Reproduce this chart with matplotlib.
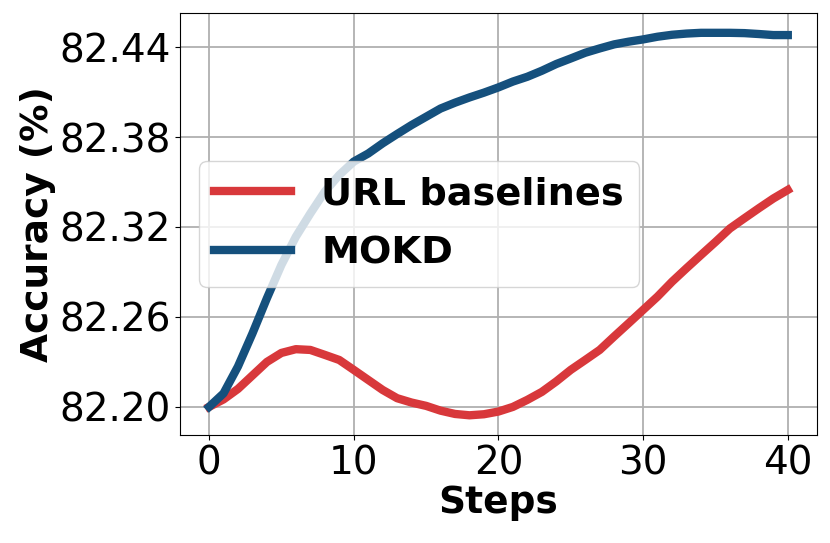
import matplotlib
matplotlib.use("Agg")
import matplotlib.pyplot as plt

# steps 0..40, values
steps = list(range(41))

url_baselines = [82.200, 82.205, 82.212, 82.221, 82.230, 82.236, 82.2385, 82.238, 82.2347, 82.2313,
                 82.2247, 82.218, 82.2113, 82.2058, 82.2029, 82.2007, 82.1975, 82.1953, 82.1944, 82.1951,
                 82.1969, 82.200, 82.2047, 82.210, 82.217, 82.2247, 82.2313, 82.238, 82.247, 82.2558,
                 82.2647, 82.2736, 82.2835, 82.2925, 82.3013, 82.310, 82.319, 82.3258, 82.3325, 82.339,
                 82.3447]

mokd = [82.200, 82.209, 82.227, 82.249, 82.2725, 82.2947, 82.3135, 82.329, 82.3436, 82.3547,
        82.3636, 82.369, 82.3758, 82.382, 82.388, 82.3935, 82.399, 82.4029, 82.4064, 82.4096,
        82.4131, 82.417, 82.4202, 82.4242, 82.4287, 82.4324, 82.4362, 82.4391, 82.4418, 82.4436,
        82.4451, 82.4469, 82.4482, 82.449, 82.4495, 82.4495, 82.4495, 82.4493, 82.4487, 82.448,
        82.448]

yticks = [82.20, 82.26, 82.32, 82.38, 82.44]
xticks = [0, 10, 20, 30, 40]

fig = plt.figure(figsize=(8.3, 5.43), dpi=100)
ax = fig.add_axes([0.217, 0.199, 0.767, 0.777])

ax.plot(steps, url_baselines, color="#d8383b", lw=6, label="URL baselines")
ax.plot(steps, mokd, color="#15507d", lw=6, label="MOKD")

ax.set_xlim(-2, 42)
ax.set_ylim(82.1813, 82.4627)
ax.set_xticks(xticks)
ax.set_yticks(yticks)
ax.set_yticklabels(["{:.2f}".format(v) for v in yticks])
ax.tick_params(labelsize=28)
ax.grid(True, color="#b0b0b0", lw=1.3)
ax.set_axisbelow(True)

ax.set_xlabel("Steps", fontsize=27, fontweight="bold", labelpad=2)
ax.set_ylabel("Accuracy (%)", fontsize=27, fontweight="bold", labelpad=2)

leg = ax.legend(loc="center left", prop={"size": 27.5, "weight": "bold"},
                handlelength=2.0, labelspacing=0.6)

fig.savefig("out.png", dpi=100)
